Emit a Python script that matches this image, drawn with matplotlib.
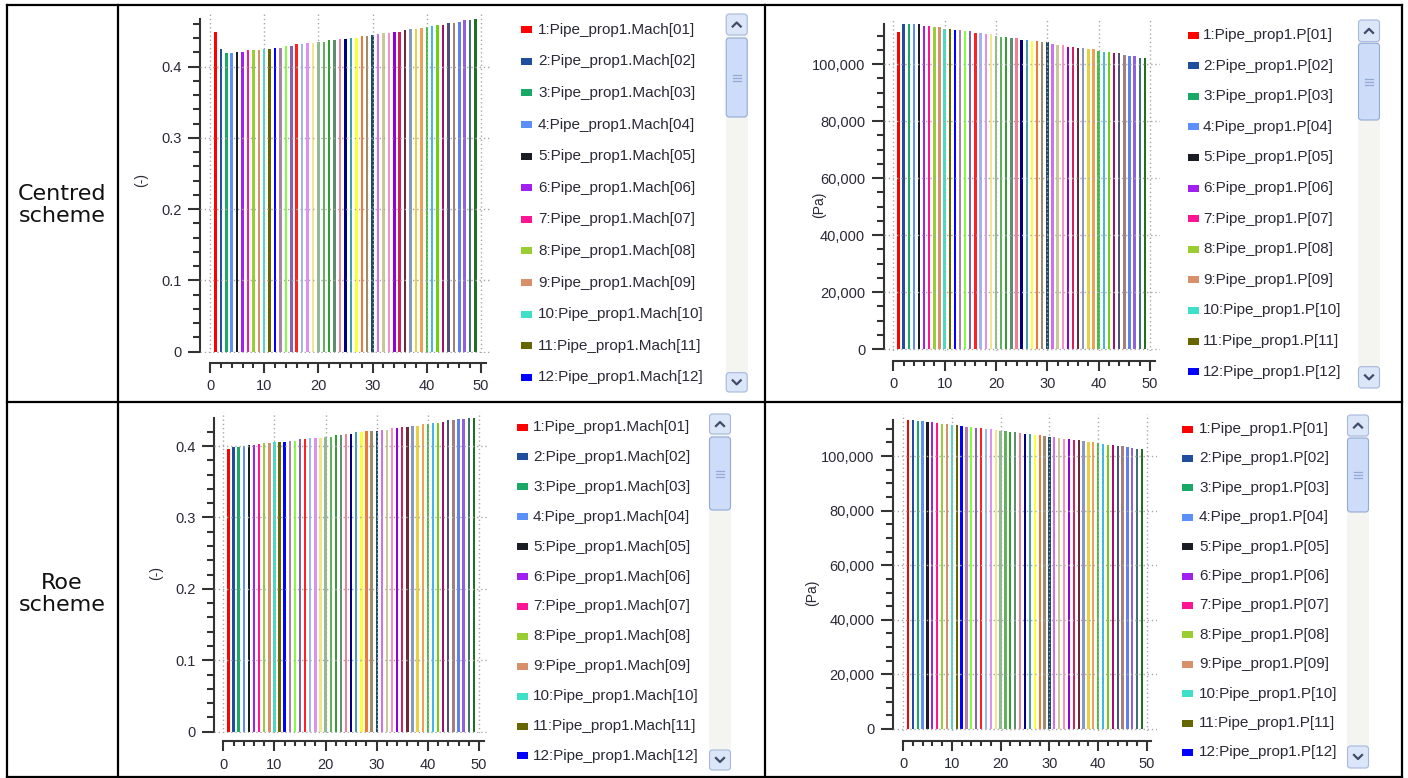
import numpy as np
import matplotlib
matplotlib.use('Agg')
import matplotlib.pyplot as plt
from matplotlib.patches import Rectangle, FancyBboxPatch
from matplotlib.ticker import FuncFormatter

W, H = 1408, 778

# ---- data ----
x = list(range(1, 50))

mach_centred = [0.4490, 0.4248, 0.4187, 0.4187, 0.4211, 0.4211, 0.4229, 0.4229, 0.4229, 0.4248,
                0.4248, 0.4267, 0.4267, 0.4285, 0.4290, 0.4313, 0.4313, 0.4327, 0.4327, 0.4351,
                0.4351, 0.4370, 0.4370, 0.4388, 0.4388, 0.4407, 0.4407, 0.4430, 0.4430, 0.4449,
                0.4454, 0.4468, 0.4468, 0.4491, 0.4491, 0.4510, 0.4529, 0.4529, 0.4547, 0.4552,
                0.4571, 0.4589, 0.4589, 0.4608, 0.4608, 0.4632, 0.4650, 0.4650, 0.4674]

mach_roe = [0.3963, 0.3981, 0.3990, 0.4000, 0.4019, 0.4019, 0.4023, 0.4037, 0.4037, 0.4056,
            0.4056, 0.4056, 0.4075, 0.4075, 0.4093, 0.4093, 0.4112, 0.4112, 0.4112, 0.4131,
            0.4131, 0.4149, 0.4149, 0.4173, 0.4173, 0.4191, 0.4191, 0.4210, 0.4210, 0.4210,
            0.4229, 0.4229, 0.4247, 0.4247, 0.4266, 0.4266, 0.4285, 0.4285, 0.4303, 0.4303,
            0.4322, 0.4322, 0.4341, 0.4359, 0.4359, 0.4378, 0.4378, 0.4397, 0.4397]

p_centred = [111350, 113900, 113900, 113900, 113900, 113330, 113330, 112870, 112870, 112400,
             112400, 111930, 111930, 111460, 111460, 110990, 110900, 110410, 110410, 109940,
             109470, 109470, 109010, 109010, 108540, 108540, 108070, 108070, 107600, 107600,
             107130, 106550, 106550, 106080, 106080, 105610, 105610, 105150, 105150, 104680,
             104210, 104210, 103740, 103740, 103160, 102690, 102690, 102220, 102220]

p_roe = [113300, 113100, 112900, 112700, 112500, 112300, 112100, 111900, 111700, 111500,
         111300, 111000, 110800, 110600, 110400, 110200, 110000, 109800, 109600, 109300,
         109100, 108900, 108700, 108500, 108200, 108000, 107800, 107600, 107300, 107100,
         106900, 106600, 106400, 106200, 105900, 105700, 105500, 105200, 105000, 104700,
         104500, 104200, 104000, 103700, 103500, 103200, 102900, 102700, 102400]

colors = ['#ff0000', '#1f4e9c', '#19a866', '#5b8ff9', '#1a1e24', '#a020f0', '#ff1493', '#9acd32',
          '#d8906a', '#40e0c8', '#666600', '#0000ff', '#b07fb0', '#80ff40', '#8a60a8', '#ff2020',
          '#a0b4f0', '#e090f0', '#f0e68c', '#8fbc8f', '#60b060', '#30a030', '#5f8f6f', '#f08098',
          '#000080', '#40a0b0', '#ffff30', '#f07830', '#a08c6c', '#1a4a6a', '#d070f0', '#c8c898',
          '#f890c8', '#9400d3', '#d02060', '#6a2a3a', '#8898c0', '#e8d040', '#f0a050', '#40c040',
          '#40b8e8', '#70d010', '#a01070', '#505078', '#a08080', '#6080f0', '#9060e0', '#407070',
          '#207020']

mach_labels = ['%d:Pipe_prop1.Mach[%02d]' % (i, i) for i in range(1, 13)]
p_labels = ['%d:Pipe_prop1.P[%02d]' % (i, i) for i in range(1, 13)]
row_labels = ['Centred\nscheme', 'Roe\nscheme']

# ---- layout (pixels) ----
panels = [
    dict(vals=mach_centred, labels=mach_labels, unit='(-)', ref=0.4, major=0.1, minor=0.02,
         box=(200, 13, 490, 353), x0=210, x50=481, y0=351.7, yref=66.7, off=7,
         ylab=(-0.18, 0.51), leg=(521, 538, 29.7, 31.6), sb=(725.7, 747.7, 14, 35, 38, 117, 372.7, 392)),
    dict(vals=p_centred, labels=p_labels, unit='(Pa)', ref=100000, major=20000, minor=5000,
         box=(884, 18, 1160, 351), x0=893.3, x50=1150, y0=349, yref=64, off=7,
         ylab=(-0.21, 0.44), leg=(1188, 1203, 35, 30.6), sb=(1358, 1380, 20, 41.7, 43.3, 120, 366.7, 388)),
    dict(vals=mach_roe, labels=mach_labels, unit='(-)', ref=0.4, major=0.1, minor=0.02,
         box=(214, 412, 488, 733), x0=223.3, x50=479, y0=731.7, yref=446, off=6,
         ylab=(-0.186, 0.5), leg=(517, 533, 427, 29.9), sb=(709, 731, 414, 434, 437, 510, 750, 770)),
    dict(vals=p_roe, labels=p_labels, unit='(Pa)', ref=100000, major=20000, minor=5000,
         box=(893, 414, 1157, 731), x0=903, x50=1147, y0=729, yref=456, off=7,
         ylab=(-0.28, 0.435), leg=(1182, 1199, 429, 29.4), sb=(1347, 1369, 415, 436, 438, 512, 746, 768)),
]

FONT = ['Liberation Sans', 'DejaVu Sans']
TXT = '#2a2a36'

fig = plt.figure(figsize=(W / 100, H / 100), dpi=100)
ov = fig.add_axes([0, 0, 1, 1])
ov.set_xlim(0, W)
ov.set_ylim(H, 0)
ov.axis('off')

# table frame
for xs, ys in [((7, 1402), (5, 5)), ((7, 1402), (777, 777)), ((7, 1402), (402, 402)),
               ((7, 7), (5, 777)), ((118, 118), (5, 777)), ((765, 765), (5, 777)),
               ((1402, 1402), (5, 777))]:
    ov.plot(xs, ys, color='black', lw=1.6, solid_capstyle='projecting')

for lab, yc in zip(row_labels, [205, 594]):
    ov.text(62, yc, lab, ha='center', va='center', fontsize=16, family='DejaVu Sans',
            color='#111111', linespacing=1.1)


def scrollbar(x1, x2, u1, u2, t1, t2, d1, d2):
    w = x2 - x1
    ov.add_patch(Rectangle((x1, u1), w, d2 - u1, facecolor='#f4f4f0', edgecolor='none'))
    for a, b in [(u1, u2), (d1, d2)]:
        ov.add_patch(FancyBboxPatch((x1 + 0.5, a), w - 1, b - a, boxstyle='round,pad=0,rounding_size=3',
                                    facecolor='#dbe6f9', edgecolor='#a5b8de', lw=0.8))
    ov.add_patch(FancyBboxPatch((x1 + 0.5, t1), w - 1, t2 - t1, boxstyle='round,pad=0,rounding_size=3',
                                facecolor='#cddcf8', edgecolor='#93aad9', lw=0.8))
    cx = (x1 + x2) / 2
    cu = (u1 + u2) / 2
    cd = (d1 + d2) / 2
    ov.plot([cx - 4, cx, cx + 4], [cu + 2, cu - 2, cu + 2], color='#404c68', lw=1.6)
    ov.plot([cx - 4, cx, cx + 4], [cd - 2, cd + 2, cd - 2], color='#404c68', lw=1.6)
    ct = (t1 + t2) / 2
    for dy in (-3, 0, 3):
        ov.plot([cx - 4, cx + 4], [ct + dy, ct + dy], color='#93aad6', lw=0.9)


for pn in panels:
    L, T, R, B = pn['box']
    ax = fig.add_axes([L / W, 1 - B / H, (R - L) / W, (B - T) / H])
    ax.set_facecolor('none')
    ppu = (pn['x50'] - pn['x0']) / 50.0
    ax.set_xlim((L - pn['x0']) / ppu, (R - pn['x0']) / ppu)
    ppv = (pn['y0'] - pn['yref']) / pn['ref']
    ax.set_ylim((pn['y0'] - B) / ppv, (pn['y0'] - T) / ppv)

    ax.bar(x, pn['vals'], width=0.46, color=colors, linewidth=0, zorder=1)

    vmax = max(pn['vals'])
    ax.spines['top'].set_visible(False)
    ax.spines['right'].set_visible(False)
    for s in ('left', 'bottom'):
        ax.spines[s].set_color('#333333')
        ax.spines[s].set_linewidth(1.5)
    ax.spines['left'].set_bounds(0, vmax)
    ax.spines['bottom'].set_position(('outward', pn['off']))
    ax.spines['bottom'].set_bounds(0, 50.9)

    ax.set_xticks(np.arange(0, 51, 10))
    ax.set_xticks(np.arange(0, 51, 2), minor=True)
    yt = np.arange(0, vmax + 1e-9, pn['major'])
    ax.set_yticks(yt)
    ax.set_yticks(np.arange(0, vmax, pn['minor']), minor=True)
    if pn['ref'] < 1:
        ax.yaxis.set_major_formatter(FuncFormatter(lambda v, p: '0' if abs(v) < 1e-9 else '%g' % round(v, 2)))
    else:
        ax.yaxis.set_major_formatter(FuncFormatter(lambda v, p: '{:,.0f}'.format(v)))

    ax.tick_params(axis='both', which='major', colors='#333333', width=1.5, labelcolor=TXT,
                   labelsize=10.5, pad=5)
    ax.tick_params(axis='both', which='minor', colors='#333333', width=1.5)
    ax.tick_params(axis='y', which='major', length=8.5)
    ax.tick_params(axis='y', which='minor', length=5)
    ax.tick_params(axis='x', which='major', length=7)
    ax.tick_params(axis='x', which='minor', length=3.5)
    for t in ax.get_xticklabels() + ax.get_yticklabels():
        t.set_family(FONT)

    ax.grid(True, which='major', color='#a8a8a8', linestyle=(0, (1, 2)), lw=1.0, zorder=3)
    ax.set_axisbelow(False)

    ax.set_ylabel(pn['unit'], fontsize=10, color=TXT, family=FONT)
    ax.yaxis.set_label_coords(*pn['ylab'])

    # legend panel next to the chart
    sx, tx, y1, dy = pn['leg']
    for i, lab in enumerate(pn['labels']):
        yc = y1 + i * dy
        ov.add_patch(Rectangle((sx, yc - 3.5), 11, 7, facecolor=colors[i], edgecolor='none'))
        ov.text(tx, yc, lab, ha='left', va='center', fontsize=11, family=FONT, color=TXT)
    scrollbar(*pn['sb'])

fig.savefig('out.png', dpi=100)
